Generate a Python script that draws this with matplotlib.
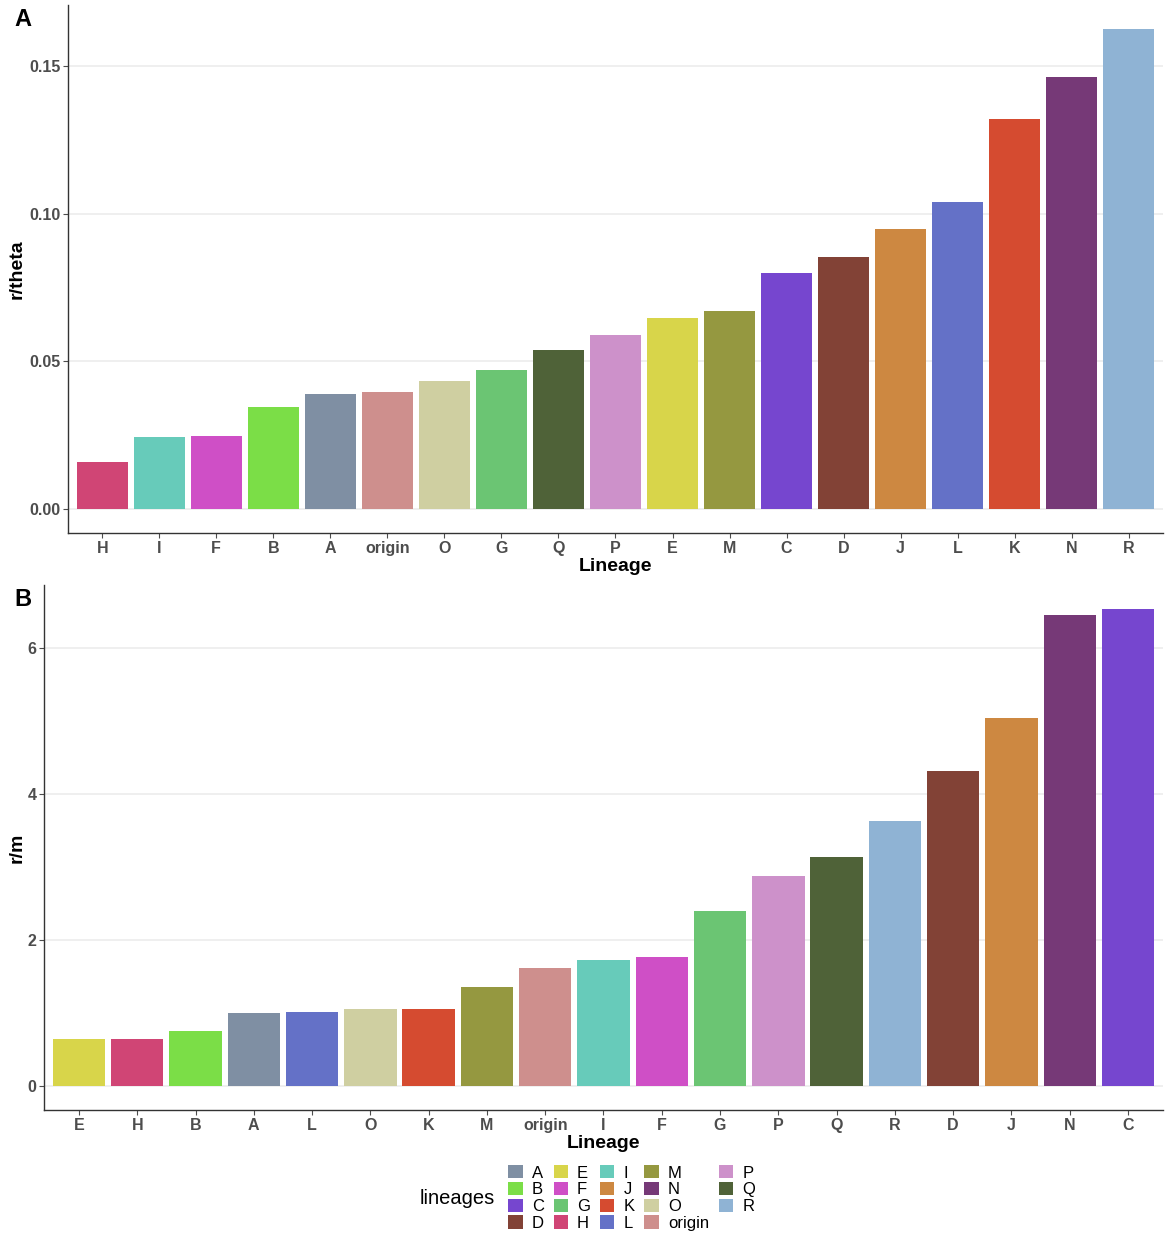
import numpy as np
import matplotlib
matplotlib.use("Agg")
import matplotlib.pyplot as plt
from matplotlib.patches import Patch

plt.rcParams['font.family'] = ['Liberation Sans', 'DejaVu Sans']

# colour of every lineage (legend order)
lineage_names = ['A', 'B', 'C', 'D', 'E', 'F', 'G', 'H', 'I', 'J', 'K', 'L',
                 'M', 'N', 'O', 'origin', 'P', 'Q', 'R']
lineage_colors = ['#7F8FA3', '#7BDE47', '#7646CF', '#824236', '#D8D54A',
                  '#CF4FC6', '#6BC573', '#D04575', '#67CBBA', '#CD8841',
                  '#D54B30', '#6471C7', '#959840', '#763977', '#CFCFA1',
                  '#CE8F8D', '#CD91CA', '#4F6238', '#8FB3D4']
color_of = dict(zip(lineage_names, lineage_colors))

# panel A: r/theta
a_lineages = ['H', 'I', 'F', 'B', 'A', 'origin', 'O', 'G', 'Q', 'P', 'E', 'M',
              'C', 'D', 'J', 'L', 'K', 'N', 'R']
a_values = [0.016, 0.0245, 0.0248, 0.0347, 0.0388, 0.0395, 0.0435, 0.047,
            0.054, 0.0588, 0.0646, 0.067, 0.080, 0.0854, 0.0949, 0.104,
            0.132, 0.1463, 0.1626]
a_ticks = [0.00, 0.05, 0.10, 0.15]
a_ticklabels = ['0.00', '0.05', '0.10', '0.15']

# panel B: r/m
b_lineages = ['E', 'H', 'B', 'A', 'L', 'O', 'K', 'M', 'origin', 'I', 'F', 'G',
              'P', 'Q', 'R', 'D', 'J', 'N', 'C']
b_values = [0.64, 0.64, 0.76, 1.00, 1.02, 1.05, 1.06, 1.35, 1.61, 1.72, 1.76,
            2.39, 2.88, 3.14, 3.63, 4.31, 5.03, 6.44, 6.53]
b_ticks = [0, 2, 4, 6]
b_ticklabels = ['0', '2', '4', '6']

W, H = 1166, 1238
fig = plt.figure(figsize=(W / 100, H / 100), dpi=100)


def px_axes(left, top, right, bottom):
    return fig.add_axes([left / W, 1 - bottom / H, (right - left) / W, (bottom - top) / H])


def draw_panel(ax, cats, vals, ticks, ticklabels, ylabel):
    x = np.arange(len(cats))
    ax.bar(x, vals, width=0.9, color=[color_of[c] for c in cats], zorder=2)
    ax.set_xlim(-0.6, len(cats) - 0.4)
    top = max(vals)
    ax.set_ylim(-0.05 * top, top * 1.05)
    ax.set_xticks(x)
    ax.set_xticklabels(cats)
    ax.set_yticks(ticks)
    ax.set_yticklabels(ticklabels)
    ax.yaxis.grid(True, color='#EBEBEB', linewidth=1.1, zorder=0)
    ax.set_axisbelow(True)
    for s in ['top', 'right']:
        ax.spines[s].set_visible(False)
    for s in ['left', 'bottom']:
        ax.spines[s].set_color('#333333')
        ax.spines[s].set_linewidth(1.0)
    ax.tick_params(axis='both', length=3.5, width=0.8, color='#4D4D4D',
                   labelcolor='#4D4D4D', labelsize=11.5, pad=2)
    for lab in ax.get_xticklabels() + ax.get_yticklabels():
        lab.set_fontweight('bold')
    ax.set_xlabel('Lineage', fontsize=14, fontweight='bold', labelpad=2)
    ax.set_ylabel(ylabel, fontsize=14, fontweight='bold')


ax_a = px_axes(68, 5, 1163, 533)
draw_panel(ax_a, a_lineages, a_values, a_ticks, a_ticklabels, 'r/theta')
ax_a.yaxis.set_label_coords(-42 / 1095, 0.5)

ax_b = px_axes(44, 585, 1163, 1110)
draw_panel(ax_b, b_lineages, b_values, b_ticks, b_ticklabels, 'r/m')
ax_b.yaxis.set_label_coords(-18 / 1119, 0.5)

fig.text(14 / W, 1 - 20 / H, 'A', fontsize=17, fontweight='bold', va='center')
fig.text(14 / W, 1 - 599 / H, 'B', fontsize=17, fontweight='bold', va='center')

# legend
handles = [Patch(facecolor=c, edgecolor='none') for c in lineage_colors]
leg = fig.legend(handles, lineage_names, ncol=5, frameon=False, fontsize=12,
                 loc='center left', bbox_to_anchor=(500 / W, 1 - 1198 / H),
                 handlelength=0.85, handleheight=0.85, handletextpad=0.55,
                 columnspacing=0.6, labelspacing=0.08, borderpad=0)
fig.text(420 / W, 1 - 1198 / H, 'lineages', fontsize=14.5, va='center')

fig.savefig('out.png', dpi=100, facecolor='white')
